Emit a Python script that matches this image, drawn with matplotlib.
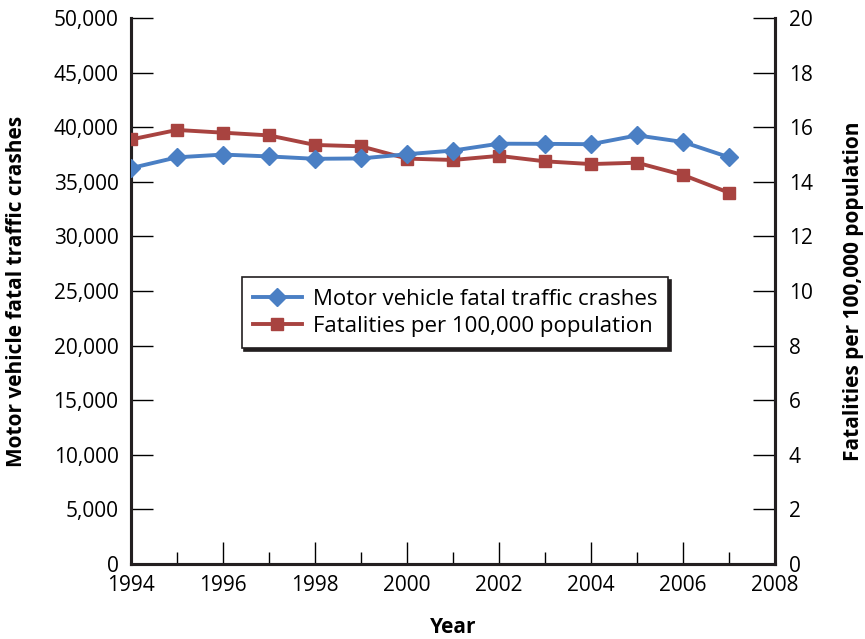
import matplotlib.pyplot as plt
from matplotlib.ticker import FuncFormatter, MultipleLocator

plt.rcParams['font.family'] = ['Open Sans', 'DejaVu Sans']

years = [1994, 1995, 1996, 1997, 1998, 1999, 2000, 2001, 2002, 2003, 2004, 2005, 2006, 2007]
crashes = [36254, 37241, 37494, 37324, 37107, 37140, 37526, 37862, 38491, 38477, 38444, 39252, 38648, 37248]
rate = [15.55, 15.9, 15.8, 15.7, 15.35, 15.3, 14.85, 14.8, 14.95, 14.75, 14.65, 14.7, 14.25, 13.6]

blue = '#4a7fc4'
red = '#a84340'

fig = plt.figure(figsize=(8.65, 6.39), dpi=100)
ax = fig.add_axes([0.1514, 0.1174, 0.7446, 0.8544])
ax2 = ax.twinx()

l2, = ax2.plot(years, rate, color=red, lw=2.8, marker='s', ms=8.5, zorder=3,
               label='Fatalities per 100,000 population')
l1, = ax2.plot([], [], color=blue, lw=2.8, marker='D', ms=9.5,
               label='Motor vehicle fatal traffic crashes')
# blue line drawn on the right axes scale (crashes / 2500) so it sits on top
ax2.plot(years, [c / 2500 for c in crashes], color=blue, lw=2.8, marker='D', ms=9.5, zorder=4)

ax.set_xlim(1994, 2008)
ax.set_ylim(0, 50000)
ax2.set_ylim(0, 20)

ax.xaxis.set_major_locator(MultipleLocator(2))
ax.xaxis.set_minor_locator(MultipleLocator(1))
ax.yaxis.set_major_locator(MultipleLocator(5000))
ax2.yaxis.set_major_locator(MultipleLocator(2))
ax.yaxis.set_major_formatter(FuncFormatter(lambda v, p: f'{int(v):,}'))

ax.tick_params(axis='x', which='major', direction='in', length=16, width=1, pad=8, labelsize=15)
ax.tick_params(axis='x', which='minor', direction='in', length=9, width=1)
ax.tick_params(axis='y', direction='in', length=16, width=1, pad=9, labelsize=15)
ax2.tick_params(axis='y', direction='in', length=16, width=1, pad=10, labelsize=15)

for a in (ax, ax2):
    a.spines['top'].set_visible(False)
    for s in ('left', 'right', 'bottom'):
        a.spines[s].set_linewidth(2.2)
        a.spines[s].set_color('#231f20')

ax.set_xlabel('Year', fontsize=15, fontweight='bold', labelpad=15)
ax.set_ylabel('Motor vehicle fatal traffic crashes', fontsize=15, fontweight='bold', labelpad=19)
ax2.set_ylabel('Fatalities per 100,000 population', fontsize=15, fontweight='bold', labelpad=22)

leg = ax2.legend(handles=[l1, l2], loc='center', bbox_to_anchor=(0.503, 0.46),
                 fontsize=16, frameon=True, fancybox=False,
                 shadow={'color': '#231f20', 'alpha': 1},
                 handlelength=2.2, borderpad=0.5, labelspacing=0.3, handletextpad=0.5)
leg.get_frame().set_edgecolor('#231f20')
leg.get_frame().set_linewidth(1.2)

fig.savefig('out.png', dpi=100)
